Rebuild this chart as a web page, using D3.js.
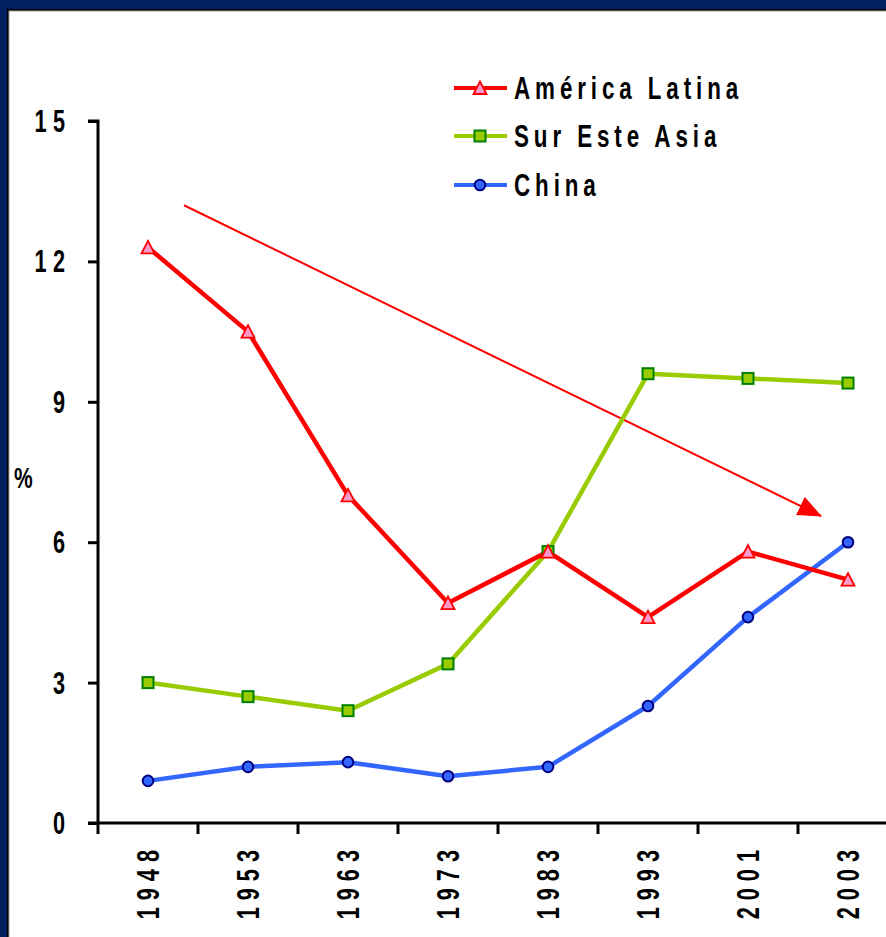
<!DOCTYPE html>
<html><head><meta charset="utf-8">
<script src="https://cdn.jsdelivr.net/npm/d3@7"></script>
<style>html,body{margin:0;padding:0;background:#fff;overflow:hidden}svg{display:block}</style>
</head><body>
<script>
const years = ["1948","1953","1963","1973","1983","1993","2001","2003"];
const americaLatina = [12.3, 10.5, 7.0, 4.7, 5.8, 4.4, 5.8, 5.2];
const surEsteAsia = [3.0, 2.7, 2.4, 3.4, 5.8, 9.6, 9.5, 9.4];
const china = [0.9, 1.2, 1.3, 1.0, 1.2, 2.5, 4.4, 6.0];
const yTicks = [0, 3, 6, 9, 12, 15];
const seriesNames = ["América Latina", "Sur Este Asia", "China"];
const yLabel = "%";
// trend arrow annotation: [category position (fractional index), value]
const trendArrow = [[0.36, 13.2], [6.73, 6.56]];

const W = 886, H = 937;
const FONT = "'Liberation Sans', Arial, sans-serif";
const SX = 0.7;

const svg = d3.select("body").append("svg").attr("width", W).attr("height", H);
svg.append("rect").attr("width", W).attr("height", H).attr("fill", "#002060");
svg.append("rect").attr("x", 7).attr("y", 9).attr("width", W).attr("height", H).attr("fill", "#000");
svg.append("rect").attr("x", 8.5).attr("y", 10.5).attr("width", W).attr("height", H).attr("fill", "#a0a0a0");
svg.append("rect").attr("x", 9.5).attr("y", 11.5).attr("width", W).attr("height", H).attr("fill", "#fff");

const x = d3.scaleBand().domain(years).range([98, 898]).padding(0);
const xIdx = d3.scaleLinear().domain([0, 1]).range([x(years[0]) + x.bandwidth() / 2, x(years[1]) + x.bandwidth() / 2]);
const y = d3.scaleLinear().domain([0, 15]).range([823, 121]);

function sText(g, tx, ty, str, opts) {
  const grp = g.append("g").attr("transform", `translate(${tx},${ty})` + (opts.rotate ? ` rotate(${opts.rotate})` : ""));
  grp.append("text").attr("transform", `scale(${SX},1)`)
    .attr("font-family", FONT).attr("font-weight", "bold")
    .attr("font-size", opts.size).attr("letter-spacing", opts.ls)
    .attr("text-anchor", opts.anchor || "start").attr("fill", "#000").text(str);
  return grp;
}

// Y axis
const yAxis = svg.append("g").attr("transform", "translate(98,0)")
  .call(d3.axisLeft(y).tickValues(yTicks).tickSize(10).tickFormat(""));
yAxis.selectAll("path,line").attr("stroke", "#000").attr("stroke-width", 3);
yAxis.select("path").attr("d", `M-10,${y(15)}H0V${y(0)}`);
yTicks.forEach(t => sText(svg, 65 + 9 * SX, y(t) + 11, String(t), {size: 31, ls: 9, anchor: "end"}));

// X axis
const xg = svg.append("g");
xg.append("line").attr("x1", 88).attr("x2", W).attr("y1", y(0)).attr("y2", y(0))
  .attr("stroke", "#000").attr("stroke-width", 3);
xg.selectAll("line.tick").data(years).join("line").attr("class", "tick")
  .attr("x1", d => x(d)).attr("x2", d => x(d)).attr("y1", y(0)).attr("y2", y(0) + 11)
  .attr("stroke", "#000").attr("stroke-width", 3);
years.forEach(yr => sText(svg, x(yr) + x.bandwidth() / 2 + 11, 850 - 10 * SX, yr, {size: 31, ls: 10, anchor: "end", rotate: -90}));

sText(svg, 14, 488, yLabel, {size: 30, ls: 0});

// trend arrow
svg.append("defs").append("marker").attr("id", "ah").attr("viewBox", "0 0 24 20")
  .attr("refX", 23).attr("refY", 10).attr("markerWidth", 24).attr("markerHeight", 20)
  .attr("markerUnits", "userSpaceOnUse").attr("orient", "auto")
  .append("path").attr("d", "M0,0 L24,10 L0,20 Z").attr("fill", "#ff0000");
svg.append("line")
  .attr("x1", xIdx(trendArrow[0][0])).attr("y1", y(trendArrow[0][1]))
  .attr("x2", xIdx(trendArrow[1][0])).attr("y2", y(trendArrow[1][1]))
  .attr("stroke", "#ff0000").attr("stroke-width", 2).attr("marker-end", "url(#ah)");

const series = [
  {name: seriesNames[0], values: americaLatina, color: "#ff0000", mk: "tri"},
  {name: seriesNames[1], values: surEsteAsia, color: "#99cc00", mk: "sq"},
  {name: seriesNames[2], values: china, color: "#3366ff", mk: "circ"}
];
const line = d3.line().x((d, i) => x(years[i]) + x.bandwidth() / 2).y(d => y(d));

function drawMarker(g, type, cx, cy) {
  if (type === "tri") {
    g.append("path").attr("d", `M${cx},${cy - 6.5}L${cx + 6.5},${cy + 6}L${cx - 6.5},${cy + 6}Z`)
      .attr("fill", "#ff99cc").attr("stroke", "#ff0000").attr("stroke-width", 1.8);
  } else if (type === "sq") {
    g.append("rect").attr("x", cx - 5.5).attr("y", cy - 5.5).attr("width", 11).attr("height", 11)
      .attr("fill", "#99cc00").attr("stroke", "#008000").attr("stroke-width", 2);
  } else {
    g.append("circle").attr("cx", cx).attr("cy", cy).attr("r", 5.3)
      .attr("fill", "#3366ff").attr("stroke", "#000080").attr("stroke-width", 2);
  }
}

[series[2], series[1], series[0]].forEach(s => {
  const g = svg.append("g");
  g.append("path").datum(s.values).attr("d", line).attr("fill", "none")
    .attr("stroke", s.color).attr("stroke-width", 4.5).attr("stroke-linejoin", "round");
});
[series[2], series[1], series[0]].forEach(s => {
  const g = svg.append("g");
  s.values.forEach((v, i) => drawMarker(g, s.mk, x(years[i]) + x.bandwidth() / 2, y(v)));
});

// legend
const legY = [88, 136, 185];
series.forEach((s, i) => {
  const g = svg.append("g");
  g.append("line").attr("x1", 454).attr("x2", 507).attr("y1", legY[i]).attr("y2", legY[i])
    .attr("stroke", s.color).attr("stroke-width", 4);
  drawMarker(g, s.mk, 480, legY[i]);
  sText(svg, 514, legY[i] + 11, s.name, {size: 32, ls: 7});
});
</script>
</body></html>
